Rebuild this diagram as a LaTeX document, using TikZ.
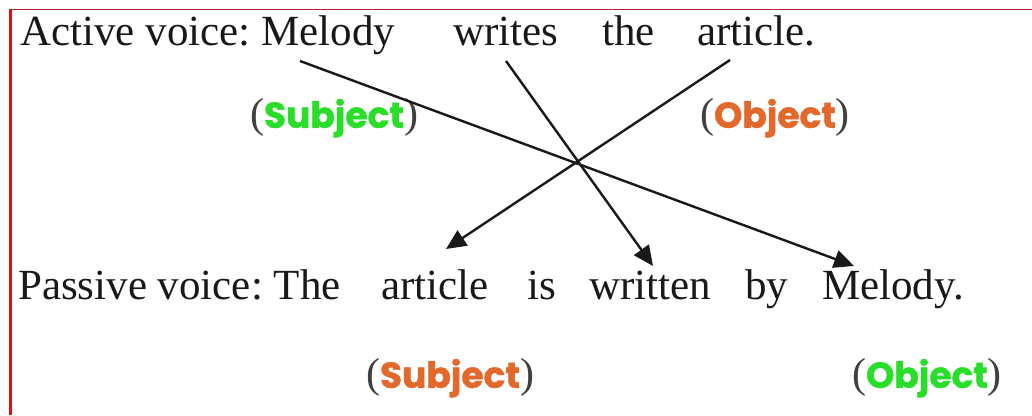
\documentclass[tikz,border=0pt]{standalone}
\usepackage{fontspec}
\setmainfont{Liberation Serif}
\newfontfamily\labfont{Poppins}[BoldFeatures={FakeBold=1.2}]
\usetikzlibrary{arrows.meta,calc}
\definecolor{subgreen}{RGB}{40,222,40}
\definecolor{objorange}{RGB}{226,104,44}
\definecolor{borderred}{RGB}{230,10,20}
\definecolor{topred}{RGB}{170,40,50}
\frenchspacing
\tikzset{
  word/.style={inner sep=0pt, anchor=base west, font=\fontsize{43}{50}\selectfont, text=black!90},
  lab/.style={inner sep=0pt, anchor=center, font=\fontsize{36}{42}\selectfont},
  arr/.style={line width=2.4pt, draw=black!90, -{Triangle[length=20pt,width=18pt]}, shorten >=0pt}
}
\newcommand{\lbl}[2]{\textcolor{black!75}{\fontsize{42}{46}\selectfont(}{\labfont\bfseries\textcolor{#1}{#2}}\textcolor{black!75}{\fontsize{42}{46}\selectfont)}}
\begin{document}
\begin{tikzpicture}[x=1pt,y=-1pt]
\useasboundingbox (0,0) rectangle (1032,415);
\fill[white] (0,0) rectangle (1032,415);
% borders
\draw[topred, line width=1.5pt] (9,9.5) -- (1032,9.5);
\fill[borderred] (8.5,9) rectangle (12,415);
% active sentence
\node[word] (a1) at (20,45) {Active voice: Melody};
\node[word] (a2) at (453,45) {writes};
\node[word] (a3) at (602,45) {the};
\node[word] (a4) at (697,45) {article.};
% passive sentence
\node[word] (p1) at (18,299) {Passive voice: The};
\node[word] (p2) at (381,299) {article};
\node[word] (p3) at (527,299) {is};
\node[word] (p4) at (589,299) {written};
\node[word] (p5) at (745,299) {by};
\node[word] (p6) at (822,299) {Melody.};
% labels
\node[lab] (ls1) at (334,118) {\lbl{subgreen}{Subject}};
\node[lab] (lo1) at (775,118) {\lbl{objorange}{Object}};
\node[lab] (ls2) at (450,378) {\lbl{objorange}{Subject}};
\node[lab] (lo2) at (927,378) {\lbl{subgreen}{Object}};
% arrow endpoints
\coordinate (s1) at (300,61);
\coordinate (e1) at (854,266);
\coordinate (s2) at (506,61);
\coordinate (e2) at (653,266);
\coordinate (s3) at (730,60);
\coordinate (e3) at (446,249);
\draw[arr] (s1) -- (e1);
\draw[arr] (s2) -- (e2);
\draw[arr] (s3) -- (e3);
\end{tikzpicture}
\end{document}
